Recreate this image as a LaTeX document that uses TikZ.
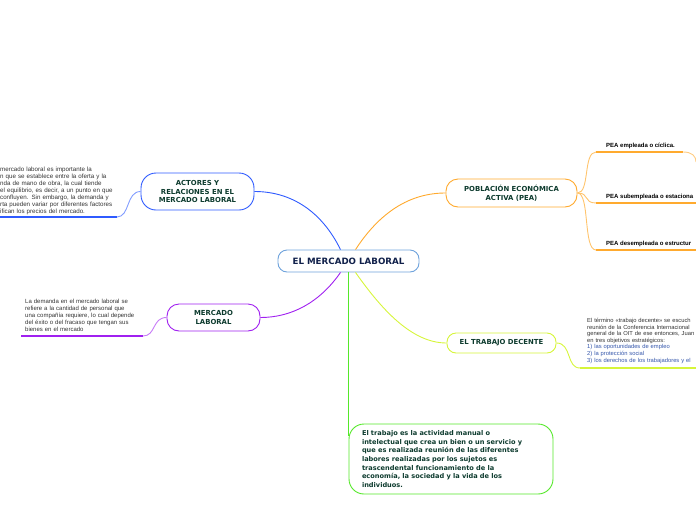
\documentclass[tikz,border=0pt]{standalone}
\usepackage{fontspec}
\setmainfont{Liberation Sans}
\newfontfamily\topicfont{DejaVu Sans}
\usetikzlibrary{positioning}

\definecolor{mainline}{HTML}{6FA3DC}
\definecolor{actblue}{HTML}{2F5BFF}
\definecolor{merpurple}{HTML}{A020F0}
\definecolor{peaorange}{HTML}{FFAA2E}
\definecolor{decyellow}{HTML}{D6F53A}
\definecolor{trabgreen}{HTML}{55E82A}
\definecolor{topictext}{HTML}{0D3B2E}
\definecolor{maintext}{HTML}{10204A}
\definecolor{notetext}{HTML}{333333}
\definecolor{listblue}{HTML}{3355AA}

\begin{document}
\begin{tikzpicture}[
  x=1pt, y=-1pt,
  topic/.style={draw, line width=0.9pt, fill=white, align=center, inner sep=2pt,
    font=\topicfont\bfseries\fontsize{6.9}{8.6}\selectfont, text=topictext},
  note/.style={anchor=north west, align=left, inner sep=0pt,
    font=\fontsize{6}{7.1}\selectfont, text=notetext},
  branch/.style={line width=0.9pt},
  uline/.style={line width=1.3pt}
]
\useasboundingbox (0,0) rectangle (696,520);

% centre
\node[topic, draw=mainline, text=maintext, minimum width=141pt, minimum height=22pt,
      rounded corners=9pt, font=\topicfont\bfseries\fontsize{8.7}{9}\selectfont]
      (main) at (348.5,261) {EL MERCADO LABORAL};

% first level
\node[topic, draw=actblue, minimum width=113pt, minimum height=37pt, rounded corners=15pt]
      (actores) at (197.5,191.5) {ACTORES Y\\RELACIONES EN EL\\MERCADO LABORAL};
\node[topic, draw=merpurple, minimum width=93pt, minimum height=27pt, rounded corners=12pt]
      (mercado) at (213.5,317.5) {MERCADO\\LABORAL};
\node[topic, draw=peaorange, minimum width=131pt, minimum height=28pt, rounded corners=12pt]
      (pea) at (511.5,193) {POBLACIÓN ECONÓMICA\\ACTIVA (PEA)};
\node[topic, draw=decyellow, minimum width=109pt, minimum height=20pt, rounded corners=9pt]
      (decente) at (501.5,343) {EL TRABAJO DECENTE};
\node[topic, draw=trabgreen, minimum width=204pt, minimum height=70pt, rounded corners=15pt,
      align=left, text width=178pt, font=\topicfont\bfseries\fontsize{6.6}{8.7}\selectfont]
      (trabajo) at (451,459) {El trabajo es la actividad manual o\\intelectual que crea un bien o un servicio y\\que es realizada reunión de las diferentes\\labores realizadas por los sujetos es\\trascendental funcionamiento de la\\economía, la sociedad y la vida de los\\individuos.};

% notes
\node[note, text width=140pt, font=\fontsize{6.2}{7.1}\selectfont] (actnote) at (0,166.5)
  {mercado laboral es importante la\\n que se establece entre la oferta y la\\nda de mano de obra, la cual tiende\\el equilibrio, es decir, a un punto en que\\ confluyen. Sin embargo, la demanda y\\rta pueden variar por diferentes factores\\ifican los precios del mercado.};
\node[note, text width=120pt] (mernote) at (25,298.5)
  {La demanda en el mercado laboral se\\refiere a la cantidad de personal que\\una compañía requiere, lo cual depende\\del éxito o del fracaso que tengan sus\\bienes en el mercado};
\node[note, text width=108pt, font=\fontsize{5.8}{6.6}\selectfont] (decnote) at (587,318)
  {El término «trabajo decente» se escuch\\reunión de la Conferencia Internacional\\general de la OIT de ese entonces, Juan\\en tres objetivos estratégicos:\\
   \textcolor{listblue}{1) las oportunidades de empleo}\\
   \textcolor{listblue}{2) la protección social}\\
   \textcolor{listblue}{3) los derechos de los trabajadores y el}};

% PEA sub topics
\node[note, anchor=south west, font=\bfseries\fontsize{6}{7}\selectfont, text=black]
      (empleada) at (606,148.5) {PEA empleada o cíclica.};
\node[note, anchor=south west, font=\bfseries\fontsize{6}{7}\selectfont, text=black]
      (subempleada) at (606,199.5) {PEA subempleada o estaciona};
\node[note, anchor=south west, font=\bfseries\fontsize{6}{7}\selectfont, text=black]
      (desempleada) at (606,246.5) {PEA desempleada o estructur};

\coordinate (actU) at (117,217);
\coordinate (merU) at (143,336);
\coordinate (decU) at (580,368);
\coordinate (empU) at (596,152);
\coordinate (subU) at (596,203);
\coordinate (desU) at (596,250);

% connectors from the centre
\draw[branch, actblue] ([xshift=-8pt]main.north) .. controls (322,212) and (292,191.5) .. (actores.east);
\draw[branch, peaorange] ([xshift=7pt]main.north) .. controls (380,212) and (410,193) .. (pea.west);
\draw[branch, merpurple] ([xshift=-8pt]main.south) .. controls (320,302) and (292,317.5) .. (mercado.east);
\draw[branch, decyellow] ([xshift=7pt]main.south) .. controls (382,310) and (412,343) .. (decente.west);
\draw[branch, trabgreen] (main.south) -- (main.south |- 0,436);

% notes and their lines
\draw[branch, actblue!60] (actores.west) .. controls (126,191.5) and (130,217) .. (actU);
\draw[uline, actblue] (actU) -- (0,217);
\draw[branch, merpurple!60] (mercado.west) .. controls (152,317.5) and (156,336) .. (merU);
\draw[uline, merpurple] (merU) -- (21,336);
\draw[branch, decyellow] (decente.east) .. controls (572,343) and (566,368) .. (decU);
\draw[uline, decyellow] (decU) -- (696,368);

% PEA branches
\foreach \u in {empU,subU,desU}
  \draw[branch, peaorange!70] (pea.east) .. controls (590,193) and (583,0 |- \u) .. (\u);
\draw[uline, peaorange] (empU) -- (683,152);
\draw[branch, peaorange!60] (683,152) .. controls (692,152) and (696,156) .. (696,162);
\draw[uline, peaorange] (subU) -- (696,203);
\draw[uline, peaorange] (desU) -- (696,250);
\end{tikzpicture}
\end{document}
